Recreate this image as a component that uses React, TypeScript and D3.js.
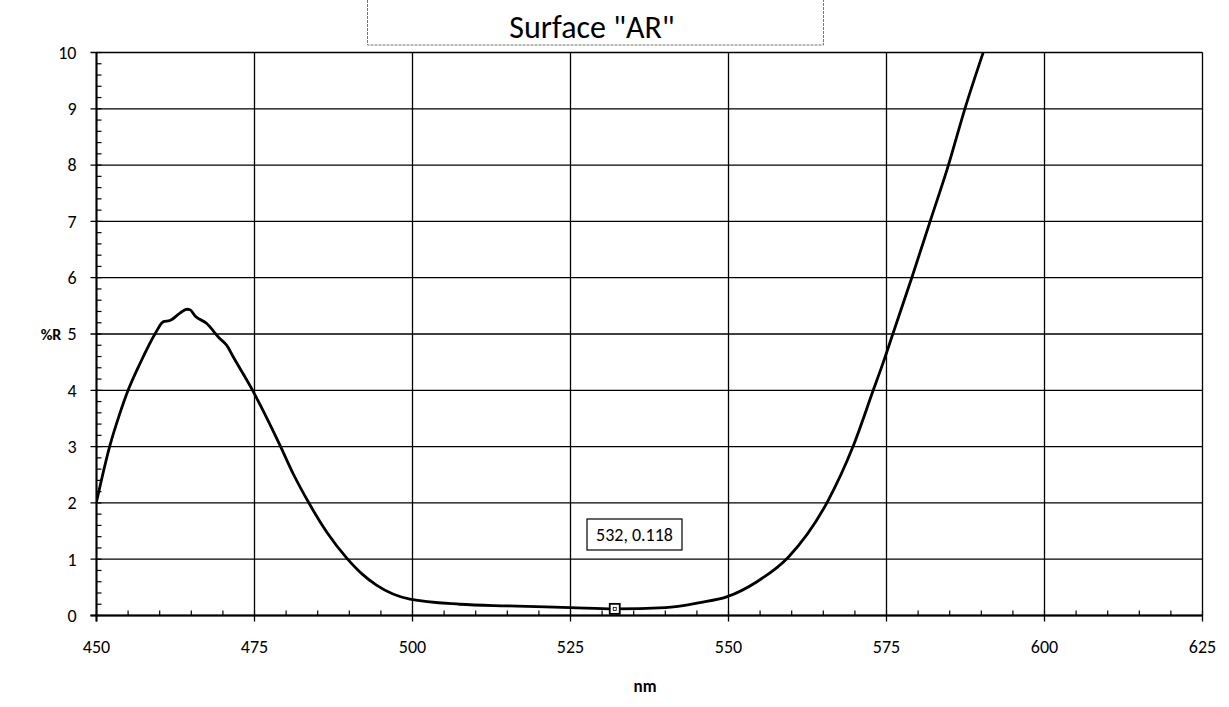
import React from "react";
import * as d3 from "d3";

const wavelengths = [450, 452.1, 453.7, 455, 456.9, 459.3, 460.6, 461.6, 463.2, 464.3, 464.8, 465.6, 467.4, 469.5, 470.6, 471.6, 474.7, 475.9, 479, 481.2, 483.5, 486.5, 489.6, 492, 494.3, 499.6, 507.5, 515, 525, 532, 540, 545.5, 549.7, 554.5, 559.5, 565.8, 569.7, 572.9, 574.5, 576, 579, 581.9, 584.8, 587.4, 590.3];
const reflectance = [2.02, 3.01, 3.59, 4.0, 4.48, 5.01, 5.22, 5.24, 5.37, 5.44, 5.43, 5.32, 5.19, 4.92, 4.8, 4.6, 4.0, 3.74, 3.03, 2.5, 2.02, 1.47, 1.02, 0.74, 0.54, 0.29, 0.2, 0.17, 0.14, 0.118, 0.14, 0.23, 0.33, 0.6, 1.04, 2.05, 3.0, 4.0, 4.5, 5.0, 6.0, 7.0, 8.0, 9.0, 10.0];
const xTicks = [450, 475, 500, 525, 550, 575, 600, 625];
const yTicks = [0, 1, 2, 3, 4, 5, 6, 7, 8, 9, 10];
const markerPoint = { x: 532, y: 0.118, label: "532, 0.118" };
const title = 'Surface "AR"';

export default function App() {
  const W = 1229, H = 707;
  const x = d3.scaleLinear().domain([450, 625]).range([96.5, 1202.5]);
  const y = d3.scaleLinear().domain([0, 10]).range([615.5, 52.5]);
  const data = wavelengths.map((w, i) => [w, reflectance[i]] as [number, number]);
  const line = d3.line<[number, number]>().x(d => x(d[0])).y(d => y(d[1])).curve(d3.curveMonotoneX);
  const minorX = d3.range(450, 625.01, 5);
  const minorY = d3.range(0, 10.001, 0.2);
  const font = "Carlito, Calibri, 'Open Sans', Lato, sans-serif";
  const mx = x(markerPoint.x), my = y(markerPoint.y);
  return (
    <svg width={W} height={H} style={{ position: "absolute", left: 0, top: 0, background: "#fff" }}>
      <rect x={0} y={0} width={W} height={H} fill="#fff" />
      <defs>
        <clipPath id="plot">
          <rect x={x(450)} y={y(10)} width={x(625) - x(450)} height={y(0) - y(10)} />
        </clipPath>
      </defs>
      {yTicks.map(t => (
        <line key={"hg" + t} x1={x(450) - 6} x2={x(625)} y1={y(t)} y2={y(t)} stroke="#000" strokeWidth={1.3} />
      ))}
      {xTicks.map(t => (
        <line key={"vg" + t} x1={x(t)} x2={x(t)} y1={y(10)} y2={y(0) + 6} stroke="#000" strokeWidth={1.3} />
      ))}
      <line x1={x(450)} x2={x(450)} y1={y(10)} y2={y(0) + 6} stroke="#000" strokeWidth={2} />
      <line x1={x(450) - 6} x2={x(625)} y1={y(0)} y2={y(0)} stroke="#000" strokeWidth={2} />
      {minorY.map((t, i) => (
        <line key={"my" + i} x1={x(450)} x2={x(450) + 5} y1={y(t)} y2={y(t)} stroke="#000" strokeWidth={1.2} />
      ))}
      {minorX.map((t, i) => (
        <line key={"mx" + i} x1={x(t)} x2={x(t)} y1={y(0)} y2={y(0) - 5} stroke="#000" strokeWidth={1.2} />
      ))}
      {yTicks.map(t => (
        <text key={"yl" + t} x={x(450) - 20} y={y(t)} dy="0.35em" textAnchor="end" fontFamily={font} fontSize={18} fill="#000">{t}</text>
      ))}
      {xTicks.map(t => (
        <text key={"xl" + t} x={x(t)} y={653} textAnchor="middle" fontFamily={font} fontSize={18} fill="#000">{t}</text>
      ))}
      <text x={51} y={y(5)} dy="0.35em" textAnchor="middle" fontFamily={font} fontSize={16} fontWeight="bold" fill="#000">%R</text>
      <text x={645} y={692} textAnchor="middle" fontFamily={font} fontSize={17} fontWeight="bold" fill="#000">nm</text>
      <path d={line(data) || ""} fill="none" stroke="#000" strokeWidth={2.8} clipPath="url(#plot)" />
      <rect x={mx - 5} y={my - 5} width={10} height={10} fill="#fff" stroke="#000" strokeWidth={1.8} />
      <rect x={mx - 1.5} y={my - 1.5} width={3} height={3} fill="none" stroke="#000" strokeWidth={0.8} />
      <rect x={587} y={519} width={95} height={31} fill="#fff" stroke="#000" strokeWidth={1.2} />
      <text x={634.5} y={541} textAnchor="middle" fontFamily={font} fontSize={18} fill="#000">{markerPoint.label}</text>
      <rect x={367.5} y={-1} width={456} height={46} fill="#fff" stroke="#777" strokeWidth={1} strokeDasharray="3,1" />
      <text x={592} y={38} textAnchor="middle" fontFamily={font} fontSize={32} fill="#000">{title}</text>
    </svg>
  );
}
